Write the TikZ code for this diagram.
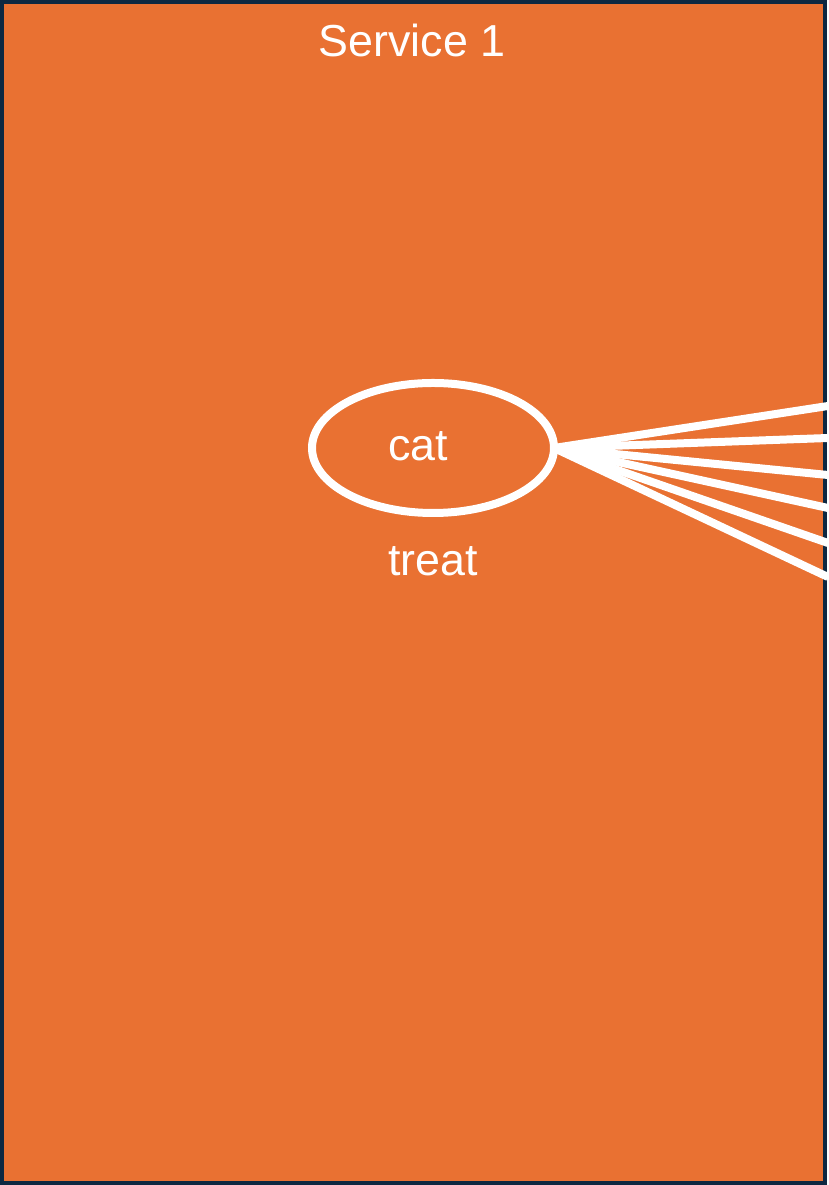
\documentclass[tikz,border=0pt]{standalone}
\usepackage{fontspec}
\setmainfont{Liberation Sans}
\usetikzlibrary{shapes.geometric}
\definecolor{ce97132}{RGB}{233,113,50}
\definecolor{c0e2841}{RGB}{14,40,65}
\tikzset{
  svcbox/.style={draw=c0e2841,fill=ce97132,line width=0.08cm},
  wordtext/.style={text=white,anchor=base,font=\fontsize{25.5}{30}\selectfont},
  catnode/.style={ellipse,draw=white,line width=0.16cm,minimum width=4.84cm,minimum height=2.6cm,inner sep=0pt},
  fanline/.style={draw=white,line width=0.16cm}
}
\begin{document}
\begin{tikzpicture}[y=1cm, x=1cm, inner sep=0pt, outer sep=0pt]
  \useasboundingbox (0,0) rectangle (16.56,23.7);
  \path[svcbox] (0.04,0.04) rectangle (16.5,23.66);

  \node[wordtext] (service) at (8.24,22.56){Service 1};

  \node[catnode] (cat) at (8.66,14.74){};
  \node[wordtext] (cattext) at (8.36,14.48){cat};
  \node[wordtext] (treat) at (8.66,12.18){treat};

  % lines out to the right edge
  \foreach \i/\y in {1/15.58,2/14.94,3/14.20,4/13.54,5/12.84,6/12.16}{
    \coordinate (out\i) at (16.56,\y);
    \path[fanline] (cat.east) -- (out\i);
  }

\end{tikzpicture}
\end{document}
